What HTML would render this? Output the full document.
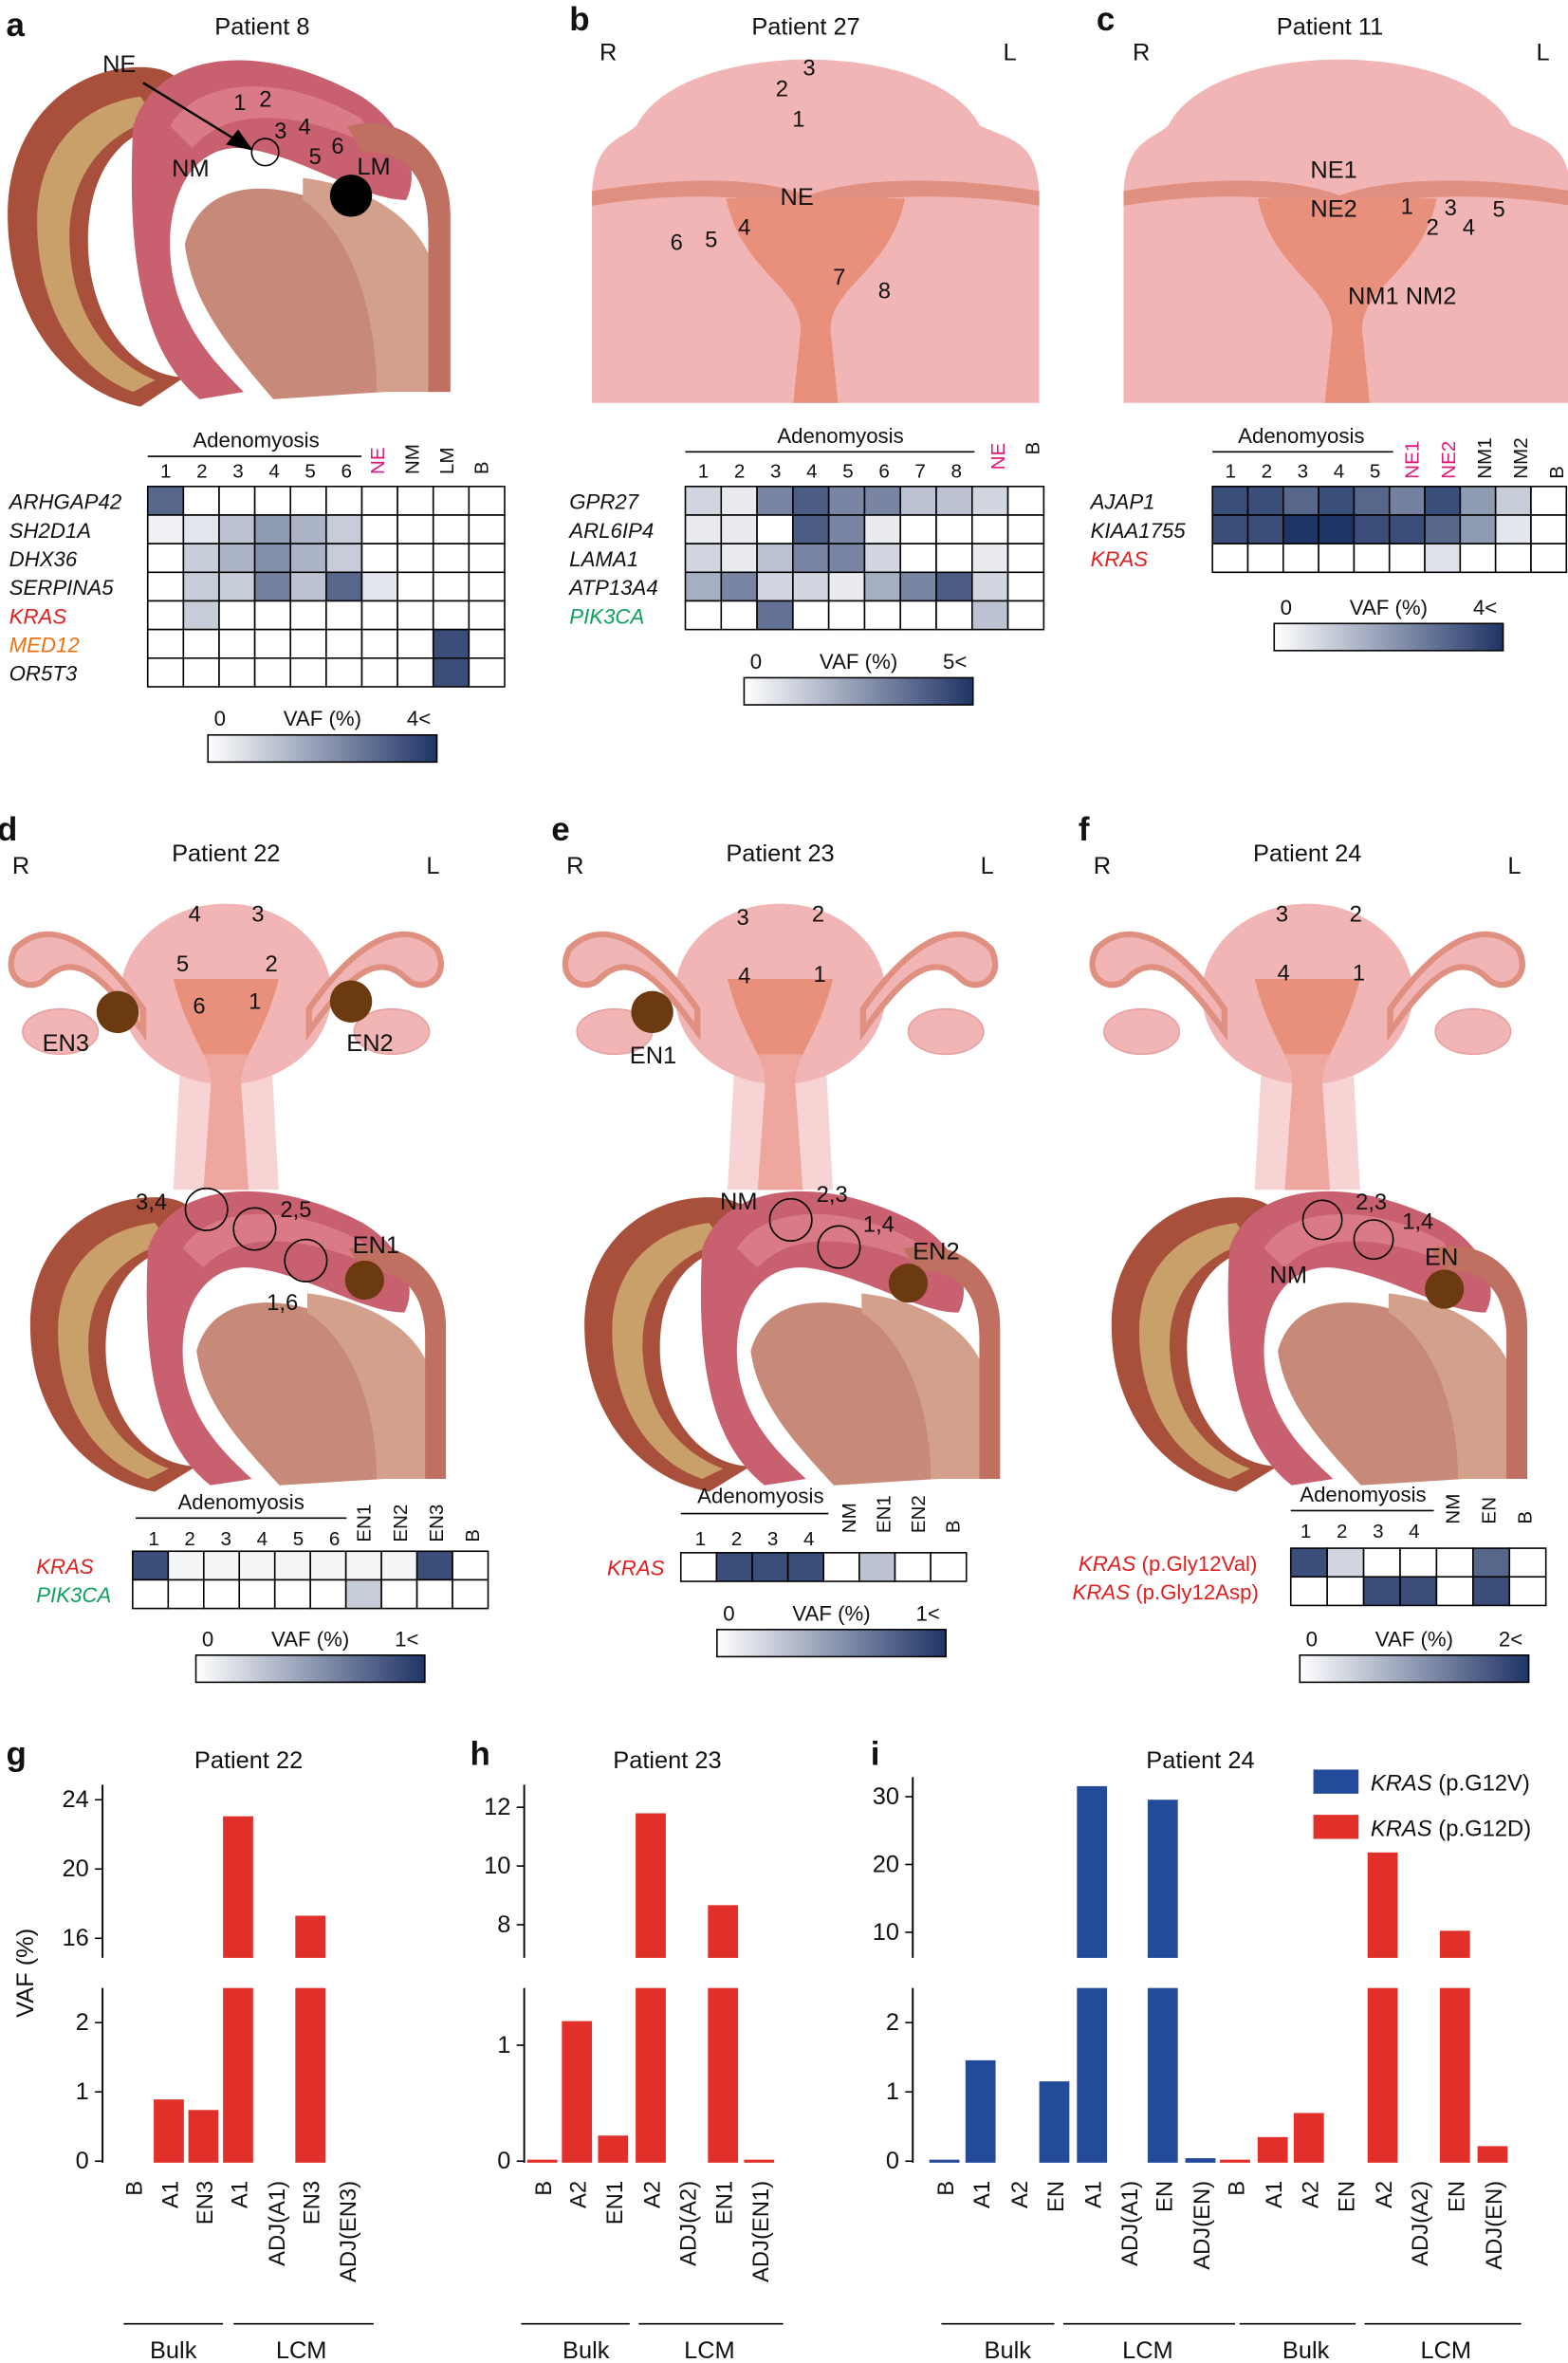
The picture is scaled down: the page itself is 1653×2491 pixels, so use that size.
<!DOCTYPE html>
<html><head><meta charset="utf-8"><style>
html,body{margin:0;padding:0;background:#fff}
svg{display:block}
text{font-family:"Liberation Sans",sans-serif;fill:#111}
</style></head><body>
<svg id="s" width="1653" height="2491" viewBox="0 0 1041 1569" xmlns="http://www.w3.org/2000/svg">
<defs>
<linearGradient id="cb" x1="0" x2="1"><stop offset="0" stop-color="#fff"/><stop offset="1" stop-color="#1f3466"/></linearGradient>
<g id="sag">
<path d="M0,120 C0,60 40,20 90,20 C120,20 130,40 110,60 C80,60 50,90 55,150 C60,200 90,230 120,230 L90,250 C40,240 0,190 0,120Z" fill="#a8503c"/>
<path d="M20,125 C20,75 50,45 90,40 L100,55 C65,65 40,95 42,140 C44,190 70,220 100,232 L85,240 C45,225 20,180 20,125Z" fill="#c9a06a"/>
<path d="M85,60 C100,10 170,0 240,40 C270,60 280,90 270,110 C240,110 200,80 160,75 C130,72 110,100 110,140 C110,190 140,220 160,240 L130,245 C95,215 80,160 85,60Z" fill="#c96070"/>
<path d="M110,60 C130,25 190,25 240,55 L250,75 C200,50 150,45 125,75Z" fill="#d97a86"/>
<path d="M120,140 C130,100 170,95 210,110 C240,120 260,150 270,180 L255,240 L180,245 C150,210 125,180 120,140Z" fill="#c88a78"/>
<path d="M200,95 C240,100 280,120 290,160 L290,240 L250,240 C250,180 230,130 200,110Z" fill="#d3a08c"/>
<path d="M230,60 C270,50 300,80 300,120 L300,240 L285,240 L285,130 C285,90 265,75 240,78Z" fill="#c07060"/>
</g>
<g id="ut">
<path d="M30,60 C60,0 230,0 260,60 C280,70 300,70 300,110 L300,250 L0,250 L0,110 C0,70 20,70 30,60Z" fill="#f2b5b5"/>
<path d="M0,105 C60,95 110,95 145,108 C180,95 240,95 300,105 L300,115 C240,105 180,108 150,118 C110,108 60,105 0,115Z" fill="#e09080"/>
<path d="M90,110 L210,110 C200,160 160,170 160,200 L165,250 L135,250 L140,200 C140,170 100,160 90,110Z" fill="#e9907d"/>
</g>
<g id="ut2">
<ellipse cx="150" cy="70" rx="70" ry="60" fill="#f2b5b5"/>
<path d="M95,80 C60,30 30,20 10,40 C0,60 20,70 30,60 C50,40 70,60 95,95Z" fill="#f2b5b5" stroke="#e09080" stroke-width="4"/>
<path d="M205,80 C240,30 270,20 290,40 C300,60 280,70 270,60 C250,40 230,60 205,95Z" fill="#f2b5b5" stroke="#e09080" stroke-width="4"/>
<path d="M115,60 L185,60 C175,100 160,110 160,130 L165,200 L135,200 L140,130 C140,110 125,100 115,60Z" fill="#e9907d"/>
<path d="M120,110 L180,110 L185,200 L115,200Z" fill="#f2b5b5" opacity="0.6"/>
<ellipse cx="40" cy="95" rx="25" ry="15" fill="#f2b5b5" stroke="#e6a0a0"/>
<ellipse cx="260" cy="95" rx="25" ry="15" fill="#f2b5b5" stroke="#e6a0a0"/>
</g>
</defs>
<g id="root"></g>
</svg>
<script>
const R=document.getElementById('root');let h='';
function T(x,y,t,o={}){h+=`<text x="${x}" y="${y}" font-size="${o.s||15}" ${o.a?`text-anchor="${o.a}"`:''} ${o.c?`fill="${o.c}" style="fill:${o.c}"`:''} ${o.i?'font-style="italic"':''} ${o.b?'font-weight="bold"':''} ${o.r?`transform="rotate(-90 ${x} ${y})"`:''}>${t}</text>`;}
function col(v,m){let f=Math.min(v/m,1);let r=Math.round(255+(31-255)*f),g=Math.round(255+(52-255)*f),b=Math.round(255+(102-255)*f);return `rgb(${r},${g},${b})`;}
function hm(x0,y0,cw,rh,rows,max){rows.forEach((r,i)=>r.forEach((v,j)=>{h+=`<rect x="${x0+j*cw}" y="${y0+i*rh}" width="${cw}" height="${rh}" fill="${col(v,max)}" stroke="#000" stroke-width="1"/>`;}));}
function cbar(x,y,w,l,r){h+=`<rect x="${x}" y="${y}" width="${w}" height="18" fill="url(#cb)" stroke="#000"/>`;T(x+4,y-6,'0',{s:14});T(x+w/2,y-6,'VAF (%)',{s:14,a:'middle'});T(x+w-4,y-6,r,{s:14,a:'end'});}
function panel(x,y,l){T(x,y,l,{s:22,b:1});}
// Panel a
panel(4,24,'a');T(174,23,'Patient 8',{a:'middle',s:16});
h+=`<use href="#sag" transform="translate(5,25) scale(0.98,0.98)"/>`;
T(68,48,'NE',{s:16});h+=`<line x1="95" y1="55" x2="160" y2="95" stroke="#000" stroke-width="1.5"/><polygon points="168,100 150,96 158,86" fill="#000"/>`;
h+=`<circle cx="176" cy="101" r="9" fill="none" stroke="#000"/><circle cx="233" cy="130" r="14" fill="#000"/>`;
T(155,73,'1',{});T(172,71,'2',{});T(182,92,'3',{});T(198,89,'4',{});T(205,109,'5',{});T(220,102,'6',{});T(237,116,'LM',{s:16});T(114,117,'NM',{s:16});
// heatmap a
const ca=['1','2','3','4','5','6'];ca.forEach((c,i)=>T(110+i*24,317,c,{s:13,a:'middle'}));
T(170,297,'Adenomyosis',{s:14,a:'middle'});h+=`<line x1="98" y1="303" x2="240" y2="303" stroke="#000"/>`;
[['NE','#e0187a'],['NM'],['LM'],['B']].forEach((c,i)=>T(255+i*23,315,c[0],{s:13,r:1,c:c[1]}));
hm(98,323,23.7,19,[[3,0,0,0,0,0,0,0,0,0],[0.3,0.5,1.2,2,1.5,1,0,0,0,0],[0,1,1.5,2.2,1.5,1,0,0,0,0],[0,1,1,2.5,1.2,3,0.5,0,0,0],[0,1,0,0,0,0,0,0,0,0],[0,0,0,0,0,0,0,0,3.5,0],[0,0,0,0,0,0,0,0,3.5,0]],4);
[['ARHGAP42'],['SH2D1A'],['DHX36'],['SERPINA5'],['KRAS','#e02020'],['MED12','#f07010'],['OR5T3']].forEach((g,i)=>T(6,338+i*19,g[0],{s:14,i:1,c:g[1]}));
cbar(138,488,152,'0','4&lt;');
// Panel b
panel(378,20,'b');T(535,23,'Patient 27',{a:'middle',s:16});T(398,40,'R',{s:16});T(666,40,'L',{s:16});
h+=`<use href="#ut" transform="translate(393,25) scale(0.99,0.97)"/>`;
T(533,50,'3',{});T(515,64,'2',{});T(526,84,'1',{});T(518,136,'NE',{s:16});T(490,156,'4',{});T(468,164,'5',{});T(445,166,'6',{});T(553,189,'7',{});T(583,198,'8',{});
['1','2','3','4','5','6','7','8'].forEach((c,i)=>T(467+i*24,317,c,{s:13,a:'middle'}));
T(558,294,'Adenomyosis',{s:14,a:'middle'});h+=`<line x1="455" y1="300" x2="647" y2="300" stroke="#000"/>`;
T(667,312,'NE',{s:13,r:1,c:'#e0187a'});T(690,302,'B',{s:13,r:1});
hm(455,323,23.8,19,[[1,0.5,3,4,3,3,1.5,1.5,1,0],[0.5,0.5,0,4,3,0.5,0,0,0,0],[1,0.5,1.5,3,3,1,0,0,0.5,0],[2,3,1,1,0.5,2,3,4,1,0],[0,0,3.5,0,0,0,0,0,1.5,0]],5);
[['GPR27'],['ARL6IP4'],['LAMA1'],['ATP13A4'],['PIK3CA','#10a060']].forEach((g,i)=>T(378,338+i*19,g[0],{s:14,i:1,c:g[1]}));
cbar(494,450,152,'0','5&lt;');
// Panel c
panel(728,20,'c');T(883,23,'Patient 11',{a:'middle',s:16});T(752,40,'R',{s:16});T(1020,40,'L',{s:16});
h+=`<use href="#ut" transform="translate(746,25) scale(0.99,0.97)"/>`;
T(870,118,'NE1',{s:16});T(870,144,'NE2',{s:16});T(930,142,'1',{});T(947,156,'2',{});T(959,143,'3',{});T(971,156,'4',{});T(991,144,'5',{});T(895,202,'NM1 NM2',{s:16});
['1','2','3','4','5'].forEach((c,i)=>T(817+i*24,317,c,{s:13,a:'middle'}));
T(864,294,'Adenomyosis',{s:14,a:'middle'});h+=`<line x1="805" y1="300" x2="925" y2="300" stroke="#000"/>`;
[['NE1','#e0187a'],['NE2','#e0187a'],['NM1'],['NM2'],['B']].forEach((c,i)=>T(942+i*24,318,c[0],{s:13,r:1,c:c[1]}));
hm(805,323,23.5,19,[[3.5,3.5,3,3.5,3,2.5,3.5,2,1,0],[3.5,3.5,4,4,3.5,3.5,3,2,0.5,0],[0,0,0,0,0,0,0.6,0,0,0]],4);
[['AJAP1'],['KIAA1755'],['KRAS','#e02020']].forEach((g,i)=>T(724,338+i*19,g[0],{s:14,i:1,c:g[1]}));
cbar(846,414,152,'0','4&lt;');
// row 2 panels
function p2(x,l,title,r){panel(x-2,558,l);T(x+150,572,title,{a:'middle',s:16});T(x+8,580,'R',{s:16});T(x+283,580,'L',{s:16});h+=`<use href="#ut2" transform="translate(${x},590)"/>`;h+=`<use href="#sag" transform="translate(${x+20},778) scale(0.92,0.85)"/>`;}
p2(0,'d','Patient 22');p2(368,'e','Patient 23');p2(718,'f','Patient 24');
// d labels
h+=`<circle cx="78" cy="672" r="14" fill="#6b3a10"/><circle cx="233" cy="665" r="14" fill="#6b3a10"/>`;
T(125,612,'4',{});T(167,612,'3',{});T(117,645,'5',{});T(176,645,'2',{});T(128,673,'6',{});T(165,670,'1',{});T(28,698,'EN3',{s:16});T(230,698,'EN2',{s:16});
h+=`<circle cx="137" cy="803" r="14" fill="none" stroke="#000"/><circle cx="169" cy="816" r="14" fill="none" stroke="#000"/><circle cx="203" cy="837" r="14" fill="none" stroke="#000"/><circle cx="242" cy="850" r="13" fill="#6b3a10"/>`;
T(90,803,'3,4',{});T(186,808,'2,5',{});T(234,832,'EN1',{s:16});T(177,870,'1,6',{});
// e labels
h+=`<circle cx="433" cy="672" r="14" fill="#6b3a10"/>`;T(489,614,'3',{});T(539,612,'2',{});T(490,653,'4',{});T(540,652,'1',{});T(418,706,'EN1',{s:16});
h+=`<circle cx="525" cy="810" r="14" fill="none" stroke="#000"/><circle cx="557" cy="828" r="14" fill="none" stroke="#000"/><circle cx="603" cy="852" r="13" fill="#6b3a10"/>`;
T(478,803,'NM',{s:16});T(542,798,'2,3',{});T(573,818,'1,4',{});T(606,836,'EN2',{s:16});
// f labels
T(847,612,'3',{});T(896,612,'2',{});T(848,651,'4',{});T(898,651,'1',{});
h+=`<circle cx="878" cy="810" r="13" fill="none" stroke="#000"/><circle cx="912" cy="823" r="13" fill="none" stroke="#000"/><circle cx="959" cy="856" r="13" fill="#6b3a10"/>`;
T(900,803,'2,3',{});T(931,816,'1,4',{});T(946,840,'EN',{s:16});T(843,852,'NM',{s:16});
// heatmaps d,e,f
['1','2','3','4','5','6'].forEach((c,i)=>T(102+i*24,1026,c,{s:13,a:'middle'}));T(160,1002,'Adenomyosis',{s:14,a:'middle'});h+=`<line x1="90" y1="1008" x2="230" y2="1008" stroke="#000"/>`;
['EN1','EN2','EN3','B'].forEach((c,i)=>T(246+i*24,1024,c,{s:13,r:1}));
hm(88,1030,23.6,19,[[3.5,0.2,0.2,0.2,0.2,0.2,0.2,0.2,3.5,0],[0,0,0,0,0,0,1,0,0,0]],4);
T(24,1045,'KRAS',{s:14,i:1,c:'#e02020'});T(24,1064,'PIK3CA',{s:14,i:1,c:'#10a060'});cbar(130,1099,152,'0','1&lt;');
['1','2','3','4'].forEach((c,i)=>T(465+i*24,1026,c,{s:13,a:'middle'}));T(505,998,'Adenomyosis',{s:14,a:'middle'});h+=`<line x1="452" y1="1005" x2="550" y2="1005" stroke="#000"/>`;
['NM','EN1','EN2','B'].forEach((c,i)=>T(568+i*23,1018,c,{s:13,r:1}));
hm(452,1031,23.7,19,[[0,3.5,3.5,3.5,0,1.2,0,0]],4);T(403,1046,'KRAS',{s:14,i:1,c:'#e02020'});cbar(476,1082,152,'0','1&lt;');
['1','2','3','4'].forEach((c,i)=>T(867+i*24,1021,c,{s:13,a:'middle'}));T(905,997,'Adenomyosis',{s:14,a:'middle'});h+=`<line x1="857" y1="1003" x2="952" y2="1003" stroke="#000"/>`;
['NM','EN','B'].forEach((c,i)=>T(969+i*24,1012,c,{s:13,r:1}));
hm(857,1028,24.2,19,[[3.5,0.8,0,0,0,3,0],[0,0,3.5,3.5,0,3.5,0]],4);
T(716,1043,'KRAS <tspan font-style="normal">(p.Gly12Val)</tspan>',{s:14,i:1,c:'#e02020'});T(712,1062,'KRAS <tspan font-style="normal">(p.Gly12Asp)</tspan>',{s:14,i:1,c:'#e02020'});cbar(863,1099,152,'0','2&lt;');
// bar charts
const RED='#e1302a',BLU='#234b9a';
function axis(x,ticksU,ticksL,yTopU,yBotU){h+=`<line x1="${x}" y1="${yTopU}" x2="${x}" y2="${yBotU}" stroke="#000" stroke-width="1.2"/><line x1="${x}" y1="1320" x2="${x}" y2="1436" stroke="#000" stroke-width="1.2"/>`;
[...ticksU,...ticksL].forEach(([y,t])=>{h+=`<line x1="${x-5}" y1="${y}" x2="${x}" y2="${y}" stroke="#000"/>`;T(x-9,y+5,t,{s:16,a:'end'});});}
function bar(cx,top,bot,c){h+=`<rect x="${cx-10}" y="${top}" width="20" height="${bot-top}" fill="${c}"/>`;}
function brk(cx,top,c){bar(cx,top,1300,c);bar(cx,1320,1436,c);}
function xl(list,x0){list.forEach(([x,t])=>T(x+6,1448,t,{s:15,r:1,a:'end'}));}
// g
panel(4,1172,'g');T(165,1174,'Patient 22',{a:'middle',s:16});
axis(68,[[1195,'24'],[1241,'20'],[1287,'16']],[[1343,'2'],[1389,'1'],[1435,'0']],1185,1300);
T(22,1310,'VAF (%)',{s:16,r:1,a:'middle'});
bar(112,1394,1436,RED);bar(135,1401,1436,RED);brk(158,1206,RED);brk(206,1272,RED);
xl([[88,'B'],[112,'A1'],[135,'EN3'],[158,'A1'],[183,'ADJ(A1)'],[206,'EN3'],[230,'ADJ(EN3)']]);
// h
panel(312,1172,'h');T(443,1174,'Patient 23',{a:'middle',s:16});
axis(348,[[1200,'12'],[1239,'10'],[1278,'8']],[[1358,'1'],[1435,'0']],1185,1300);
bar(360,1434,1436,RED);bar(383,1342,1436,RED);bar(407,1418,1436,RED);brk(432,1204,RED);brk(480,1265,RED);bar(504,1434,1436,RED);
xl([[360,'B'],[383,'A2'],[407,'EN1'],[432,'A2'],[456,'ADJ(A2)'],[480,'EN1'],[504,'ADJ(EN1)']]);
// i
panel(578,1172,'i');T(797,1174,'Patient 24',{a:'middle',s:16});
axis(606,[[1193,'30'],[1238,'20'],[1283,'10']],[[1343,'2'],[1389,'1'],[1435,'0']],1180,1300);
bar(627,1434,1436,BLU);bar(651,1368,1436,BLU);bar(700,1382,1436,BLU);brk(725,1186,BLU);brk(772,1195,BLU);bar(797,1433,1436,BLU);
bar(820,1434,1436,RED);bar(845,1419,1436,RED);bar(869,1403,1436,RED);brk(918,1230,RED);brk(966,1282,RED);bar(991,1425,1436,RED);
xl([[627,'B'],[651,'A1'],[676,'A2'],[700,'EN'],[725,'A1'],[749,'ADJ(A1)'],[772,'EN'],[797,'ADJ(EN)'],[820,'B'],[845,'A1'],[869,'A2'],[893,'EN'],[918,'A2'],[942,'ADJ(A2)'],[966,'EN'],[991,'ADJ(EN)']]);
h+=`<rect x="872" y="1175" width="30" height="16" fill="${BLU}"/><rect x="872" y="1205" width="30" height="16" fill="${RED}"/>`;
T(910,1189,'KRAS <tspan font-style="normal">(p.G12V)</tspan>',{s:15,i:1});T(910,1219,'KRAS <tspan font-style="normal">(p.G12D)</tspan>',{s:15,i:1});
// Bulk/LCM
[[82,148,'Bulk',115],[155,248,'LCM',200],[346,418,'Bulk',389],[424,520,'LCM',471],[625,700,'Bulk',669],[706,820,'LCM',762],[823,900,'Bulk',867],[906,1010,'LCM',960]].forEach(([a,b,t,c])=>{h+=`<line x1="${a}" y1="1543" x2="${b}" y2="1543" stroke="#000"/>`;T(c,1566,t,{s:16,a:'middle'});});
R.innerHTML=h;
</script>
</body></html>
